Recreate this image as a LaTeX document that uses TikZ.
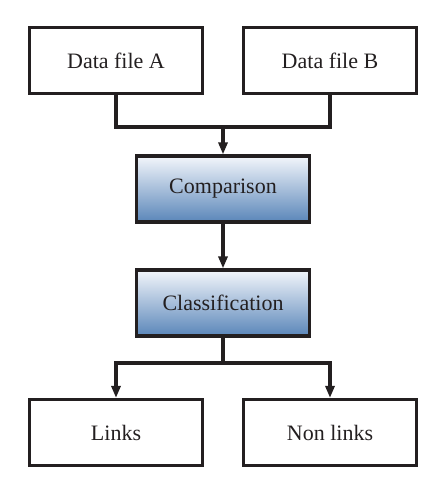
\documentclass[tikz,border=0pt]{standalone}
\usepackage{fontspec}
\setmainfont{Liberation Serif}
\usetikzlibrary{arrows.meta}
\definecolor{gtop}{HTML}{F3F6FB}
\definecolor{gbot}{HTML}{5A86B9}
\definecolor{ink}{HTML}{231F20}
\begin{document}
\begin{tikzpicture}[x=1pt,y=-1pt,line width=3.2pt,
  box/.style={draw=ink,minimum width=173pt,minimum height=66pt,inner sep=0pt,
    font=\fontsize{22}{26}\selectfont,text=ink},
  shadebox/.style={box,top color=gtop,bottom color=gbot},
  conn/.style={draw=ink,line join=miter},
  arr/.style={conn,-{Triangle[length=12pt,width=9pt]}}]
\useasboundingbox (0,0) rectangle (444,482);
\node[box] (A) at (116,60.5) {Data file A};
\node[box] (B) at (330,60.5) {Data file B};
\node[shadebox] (cmp) at (223,189) {Comparison};
\node[shadebox] (cls) at (223,303) {Classification};
\node[box] (links) at (116,432.5) {Links};
\node[box] (non) at (330,432.5) {Non links};
\coordinate (j1) at (223,127);
\coordinate (j2) at (223,363);
\draw[conn] (A.south) |- (j1) -| (B.south);
\draw[arr] (j1) -- (cmp.north);
\draw[arr] (cmp.south) -- (cls.north);
\draw[conn] (cls.south) -- (j2);
\draw[arr] (j2) -| (links.north);
\draw[arr] (j2) -| (non.north);
\end{tikzpicture}
\end{document}
